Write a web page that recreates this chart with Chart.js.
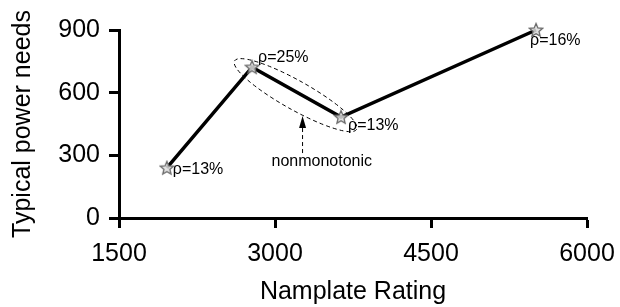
<!DOCTYPE html>
<html>
<head>
<meta charset="utf-8">
<script src="https://cdn.jsdelivr.net/npm/chart.js@4/dist/chart.umd.min.js"></script>
<style>
  html, body { margin: 0; padding: 0; background: #fff; }
  #wrap { width: 620px; height: 307px; }
</style>
</head>
<body>
<div id="wrap"><canvas id="chart"></canvas></div>
<script>
const ratings = [1960, 2780, 3635, 5510];
const powerNeeds = [240, 722, 483, 900];
const rhoLabels = ['ρ=13%', 'ρ=25%', 'ρ=13%', 'ρ=16%'];
const xTicks = [1500, 3000, 4500, 6000];
const yTicks = [0, 300, 600, 900];

const FONT = '"Liberation Sans", Arial, sans-serif';
Chart.defaults.font.family = FONT;
Chart.defaults.color = '#000';

// star marker, drawn once on a small canvas
function makeStar(size) {
    const c = document.createElement('canvas');
    c.width = size; c.height = size;
    const g = c.getContext('2d');
    const cx = size / 2, cy = size / 2 + 0.5, R = size / 2 - 1, r = R * 0.45;
    g.beginPath();
    for (let i = 0; i < 10; i++) {
        const a = -Math.PI / 2 + i * Math.PI / 5;
        const rad = i % 2 === 0 ? R : r;
        g.lineTo(cx + rad * Math.cos(a), cy + rad * Math.sin(a));
    }
    g.closePath();
    g.fillStyle = 'rgba(220,220,220,0.85)';
    g.fill();
    g.strokeStyle = '#6a6a6a';
    g.lineWidth = 1.3;
    g.stroke();
    return c;
}
const star = makeStar(16);

// point labels, the dashed ellipse and the arrow
const notes = {
    id: 'notes',
    afterDatasetsDraw(chart) {
        const ctx = chart.ctx;
        const xs = chart.scales.x, ys = chart.scales.y;
        const pts = ratings.map((r, i) => ({ x: xs.getPixelForValue(r), y: ys.getPixelForValue(powerNeeds[i]) }));

        ctx.save();
        ctx.font = '16px ' + FONT;
        ctx.fillStyle = '#000';
        ctx.textBaseline = 'middle';
        ctx.textAlign = 'left';
        const offs = [[6, 2], [6, -10], [7, 8], [-6, 11]];
        pts.forEach((p, i) => ctx.fillText(rhoLabels[i], p.x + offs[i][0], p.y + offs[i][1]));

        // ellipse around the falling segment
        const a = pts[1], b = pts[2];
        const mx = (a.x + b.x) / 2 - 1, my = (a.y + b.y) / 2 + 3;
        const ang = Math.atan2(b.y - a.y, b.x - a.x);
        const half = Math.hypot(b.x - a.x, b.y - a.y) / 2;
        ctx.setLineDash([4, 3]);
        ctx.lineWidth = 1;
        ctx.strokeStyle = '#000';
        ctx.beginPath();
        ctx.ellipse(mx, my, half + 19, 14.5, ang, 0, Math.PI * 2);
        ctx.stroke();

        // dashed arrow up to the ellipse
        const ax = xs.getPixelForValue(3265);
        const y0 = ys.getPixelForValue(311);
        const y1 = ys.getPixelForValue(436);
        ctx.beginPath();
        ctx.moveTo(ax, y0);
        ctx.lineTo(ax, y1);
        ctx.stroke();
        ctx.setLineDash([]);
        ctx.beginPath();
        ctx.moveTo(ax, y1 - 11);
        ctx.lineTo(ax - 3.5, y1 + 1);
        ctx.lineTo(ax + 3.5, y1 + 1);
        ctx.closePath();
        ctx.fill();

        ctx.textAlign = 'center';
        ctx.fillText('nonmonotonic', xs.getPixelForValue(3450), ys.getPixelForValue(271));
        ctx.restore();
    }
};

new Chart(document.getElementById('chart'), {
    type: 'line',
    data: {
        datasets: [{
            data: ratings.map((r, i) => ({ x: r, y: powerNeeds[i] })),
            borderColor: '#000',
            borderWidth: 3.5,
            pointStyle: star,
            pointRadius: 8,
            tension: 0,
            clip: false
        }]
    },
    options: {
        responsive: true,
        maintainAspectRatio: false,
        animation: false,
        layout: { padding: { top: 30, right: 33, left: 0, bottom: 0 } },
        plugins: { legend: { display: false }, tooltip: { enabled: false } },
        scales: {
            x: {
                type: 'linear',
                min: 1500, max: 6000,
                afterBuildTicks: s => { s.ticks = xTicks.map(v => ({ value: v })); },
                afterFit: s => { s.height = 89; s.paddingLeft = 0; s.paddingRight = 0; },
                grid: { drawOnChartArea: false, drawTicks: true, tickLength: 10, tickWidth: 3, tickColor: '#000' },
                border: { display: true, width: 3, color: '#000' },
                ticks: { padding: 11, font: { size: 25 }, color: '#000', maxRotation: 0, callback: v => String(v) },
                title: { display: true, text: 'Namplate Rating', font: { size: 25 }, color: '#000', padding: { top: 0, bottom: 0 } }
            },
            y: {
                min: 0, max: 900,
                afterBuildTicks: s => { s.ticks = yTicks.map(v => ({ value: v })); },
                afterFit: s => { s.width = 119; s.paddingTop = 0; s.paddingBottom = 0; },
                grid: { drawOnChartArea: false, drawTicks: true, tickLength: 10, tickWidth: 3, tickColor: '#000' },
                border: { display: true, width: 3, color: '#000' },
                ticks: { padding: 9, font: { size: 25 }, color: '#000', callback: v => String(v) },
                title: { display: true, text: 'Typical power needs', font: { size: 25 }, color: '#000', padding: { top: 8, bottom: 0 } }
            }
        }
    },
    plugins: [notes]
});
</script>
</body>
</html>
